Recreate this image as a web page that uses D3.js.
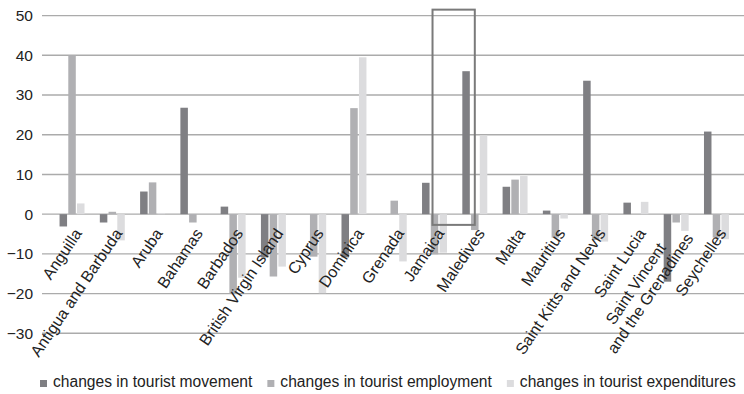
<!DOCTYPE html>
<html>
<head>
<meta charset="utf-8">
<script src="https://cdn.jsdelivr.net/npm/d3@7"></script>
<style>
  html, body { margin: 0; padding: 0; background: #fff; }
  svg { display: block; font-family: "Liberation Sans", Arial, sans-serif; }
</style>
</head>
<body>
<svg id="chart" width="744" height="394"></svg>
<script>
// Destinations on the category axis ("\n" splits a label over two lines)
const categories = [
  "Anguilla", "Antigua and Barbuda", "Aruba", "Bahamas", "Barbados",
  "British Virgin Island", "Cyprus", "Dominica", "Grenada", "Jamaica",
  "Maledives", "Malta", "Mauritius", "Saint Kitts and Nevis", "Saint Lucia",
  "Saint Vincent\nand the Grenadines", "Seychelles"
];

const seriesNames = [
  "changes in tourist movement",
  "changes in tourist employment",
  "changes in tourist expenditures"
];

const movement     = [-3.1, -2.1, 5.7, 26.8, 1.9, -10.9, 0, -10.9, 0, 7.9, 36, 6.9, 0.9, 33.6, 2.9, -17, 20.8];
const employment   = [40, 0.6, 8, -2.1, -20, -15.7, -10.7, 26.7, 3.4, -10.1, -4, 8.7, -5.9, -6.5, 0, -2.1, -5.9];
const expenditures = [2.7, -6.6, 0.3, 0, -16, -13.2, -19.9, 39.5, -11.9, -9.7, 19.8, 9.6, -1.1, -6.9, 3.1, -4.2, -6.3];

const yTicks = [-30, -20, -10, 0, 10, 20, 30, 40, 50];

// Boxed highlight around Jamaica and the Maledives (value units on the y axis)
const highlight = { from: "Jamaica", to: "Maledives", high: 51.5, low: -2.7 };

const seriesValues = [movement, employment, expenditures];
const colors = ["#7f7f83", "#b0b0b3", "#dcdcde"];

const svg = d3.select("#chart");
const W = 744;

const y = d3.scaleLinear().domain([-30, 50]).range([333.3, 15.6]);

const x = d3.scaleBand()
  .domain(categories)
  .range([51.9, 736.6])
  .paddingInner(0.38)
  .paddingOuter(0.19);

const xs = d3.scaleBand()
  .domain(d3.range(seriesNames.length))
  .range([0, x.bandwidth()])
  .paddingInner(0.14);

const center = c => x(c) + x.bandwidth() / 2;

// Horizontal gridlines
svg.append("g")
  .selectAll("line")
  .data(yTicks)
  .join("line")
  .attr("x1", 42).attr("x2", W)
  .attr("y1", d => y(d)).attr("y2", d => y(d))
  .attr("stroke", "#ababab")
  .attr("stroke-width", 1.4);

// Value axis labels
const yAxis = d3.axisLeft(y).tickValues(yTicks).tickSize(0).tickPadding(0);
svg.append("g")
  .attr("transform", "translate(33,0)")
  .call(yAxis)
  .call(g => g.select(".domain").remove())
  .call(g => g.selectAll("text")
    .attr("font-size", "15.5px")
    .attr("font-family", "Liberation Sans, Arial, sans-serif")
    .attr("fill", "#222"));

// Bars
const groups = svg.append("g")
  .selectAll("g")
  .data(categories)
  .join("g")
  .attr("transform", c => `translate(${x(c)},0)`);

groups.selectAll("rect")
  .data((c, i) => seriesValues.map((vals, s) => ({ s, v: vals[i] })))
  .join("rect")
  .attr("x", d => xs(d.s))
  .attr("width", xs.bandwidth())
  .attr("y", d => y(Math.max(0, d.v)))
  .attr("height", d => Math.abs(y(d.v) - y(0)))
  .attr("fill", d => colors[d.s]);

// Rotated category labels
const labels = svg.append("g")
  .selectAll("g")
  .data(categories)
  .join("g")
  .attr("transform", c => `translate(${center(c) + 1},227) rotate(-56)`);

const lineH = 17.5;
labels.each(function (c) {
  const g = d3.select(this);
  const lines = c.split("\n");
  const t = g.append("text")
    .attr("font-size", "16px")
    .attr("fill", "#222");
  const spans = t.selectAll("tspan")
    .data(lines)
    .join("tspan")
    .text(d => d);
  if (lines.length === 1) {
    spans.attr("x", 0).attr("y", 0).attr("dy", "0.72em").attr("text-anchor", "end");
  } else {
    const widths = [];
    spans.each(function () { widths.push(this.getComputedTextLength()); });
    const bw = d3.max(widths);
    spans
      .attr("x", -bw / 2)
      .attr("text-anchor", "middle")
      .attr("y", (d, i) => (i - (lines.length - 1) / 2) * lineH)
      .attr("dy", "0.72em");
  }
});

// Highlight box
svg.append("rect")
  .attr("x", center(highlight.from) - 2)
  .attr("y", y(highlight.high))
  .attr("width", center(highlight.to) - center(highlight.from) + 2)
  .attr("height", y(highlight.low) - y(highlight.high))
  .attr("fill", "none")
  .attr("stroke", "#7a7a7a")
  .attr("stroke-width", 2);

// Legend
const legend = svg.append("g").attr("transform", "translate(40,387)");
let lx = 0;
seriesNames.forEach((name, i) => {
  legend.append("rect")
    .attr("x", lx).attr("y", -7)
    .attr("width", 7).attr("height", 7)
    .attr("fill", colors[i]);
  const t = legend.append("text")
    .attr("x", lx + 13).attr("y", 0)
    .attr("font-size", "15.6px")
    .attr("fill", "#222")
    .text(name);
  lx += 13 + t.node().getComputedTextLength() + 15;
});
</script>
</body>
</html>
